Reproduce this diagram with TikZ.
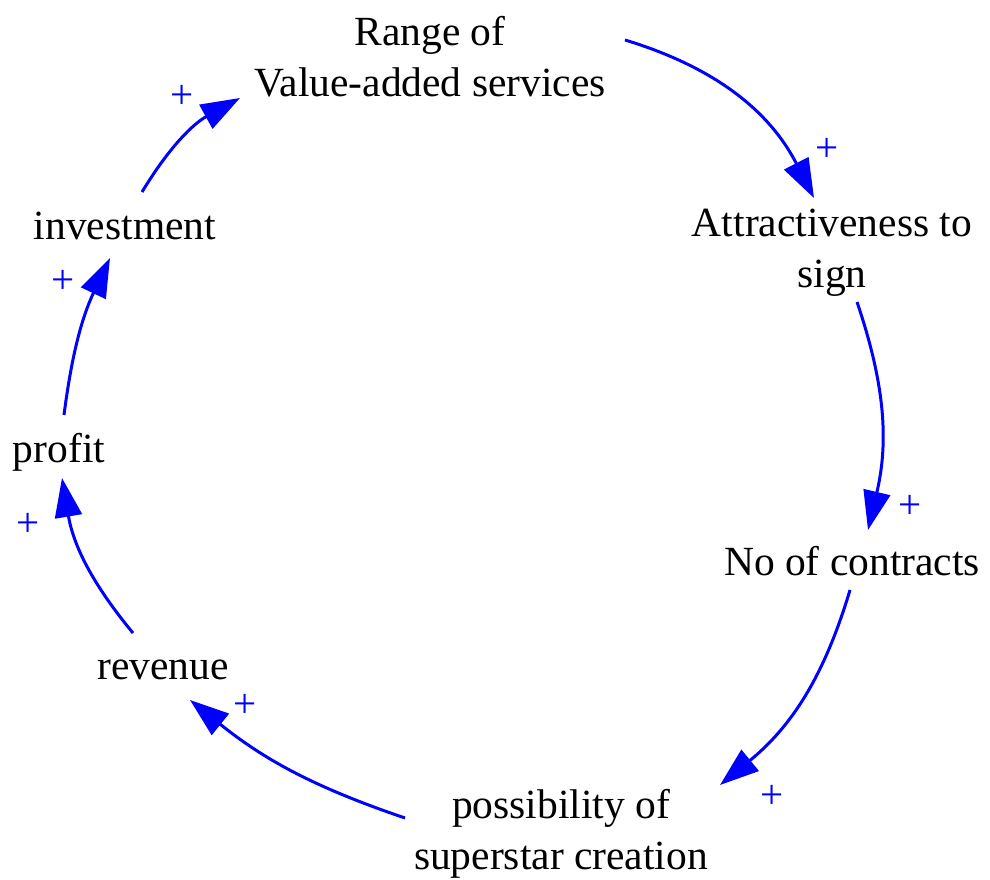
\documentclass[tikz,border=0pt]{standalone}
\usepackage{fontspec}
\setmainfont{Liberation Serif}
\usetikzlibrary{arrows.meta}
\definecolor{linkblue}{RGB}{0,0,255}
\tikzset{
  var/.style={anchor=base, inner sep=0pt, align=center, font=\fontsize{41.5}{51}\selectfont},
  sign/.style={inner sep=0pt, text=linkblue, font=\fontsize{41}{51}\selectfont},
  link/.style={draw=linkblue, line width=3pt, -{Triangle[length=39pt,width=27pt]}}
}
\begin{document}
\begin{tikzpicture}[x=1pt,y=1pt]
\useasboundingbox (0,0) rectangle (990,879);
\node[var] (range) at (430,782) {Range of\\Value-added services};
\node[var] (attr) at (832,591) {Attractiveness to\\sign};
\node[var] (noc) at (852,304) {No of contracts};
\node[var] (poss) at (561,10) {possibility of\\superstar creation};
\node[var] (inv) at (125,639) {investment};
\node[var] (rev) at (163,200) {revenue};
\node[var] (profit) at (59,416) {profit};

\draw[link] ([shift={(195,57)}]range.base) to[bend left=23] ([shift={(-18,90)}]attr.base);
\draw[link] ([shift={(25,-14)}]attr.base) to[bend left=16] ([shift={(16,45)}]noc.base);
\draw[link] ([shift={(-2,-15)}]noc.base) to[bend left=17] ([shift={(159,84)}]poss.base);
\draw[link] ([shift={(-156,51)}]poss.base) to[bend left=10] ([shift={(27,-21)}]rev.base);
\draw[link] ([shift={(-30,46)}]rev.base) to[bend left=15] ([shift={(3,-15)}]profit.base);
\draw[link] ([shift={(5,48)}]profit.base) to[bend left=9] ([shift={(-15,-18)}]inv.base);
\draw[link] ([shift={(17,48)}]inv.base) to[bend left=15] ([shift={(-190,-1)}]range.base);

\node[sign] (p1) at (827,729) {+};
\node[sign] (p2) at (910,372) {+};
\node[sign] (p3) at (772,82) {+};
\node[sign] (p4) at (245,173) {+};
\node[sign] (p5) at (28,354) {+};
\node[sign] (p6) at (63,597) {+};
\node[sign] (p7) at (182,782) {+};
\end{tikzpicture}
\end{document}
